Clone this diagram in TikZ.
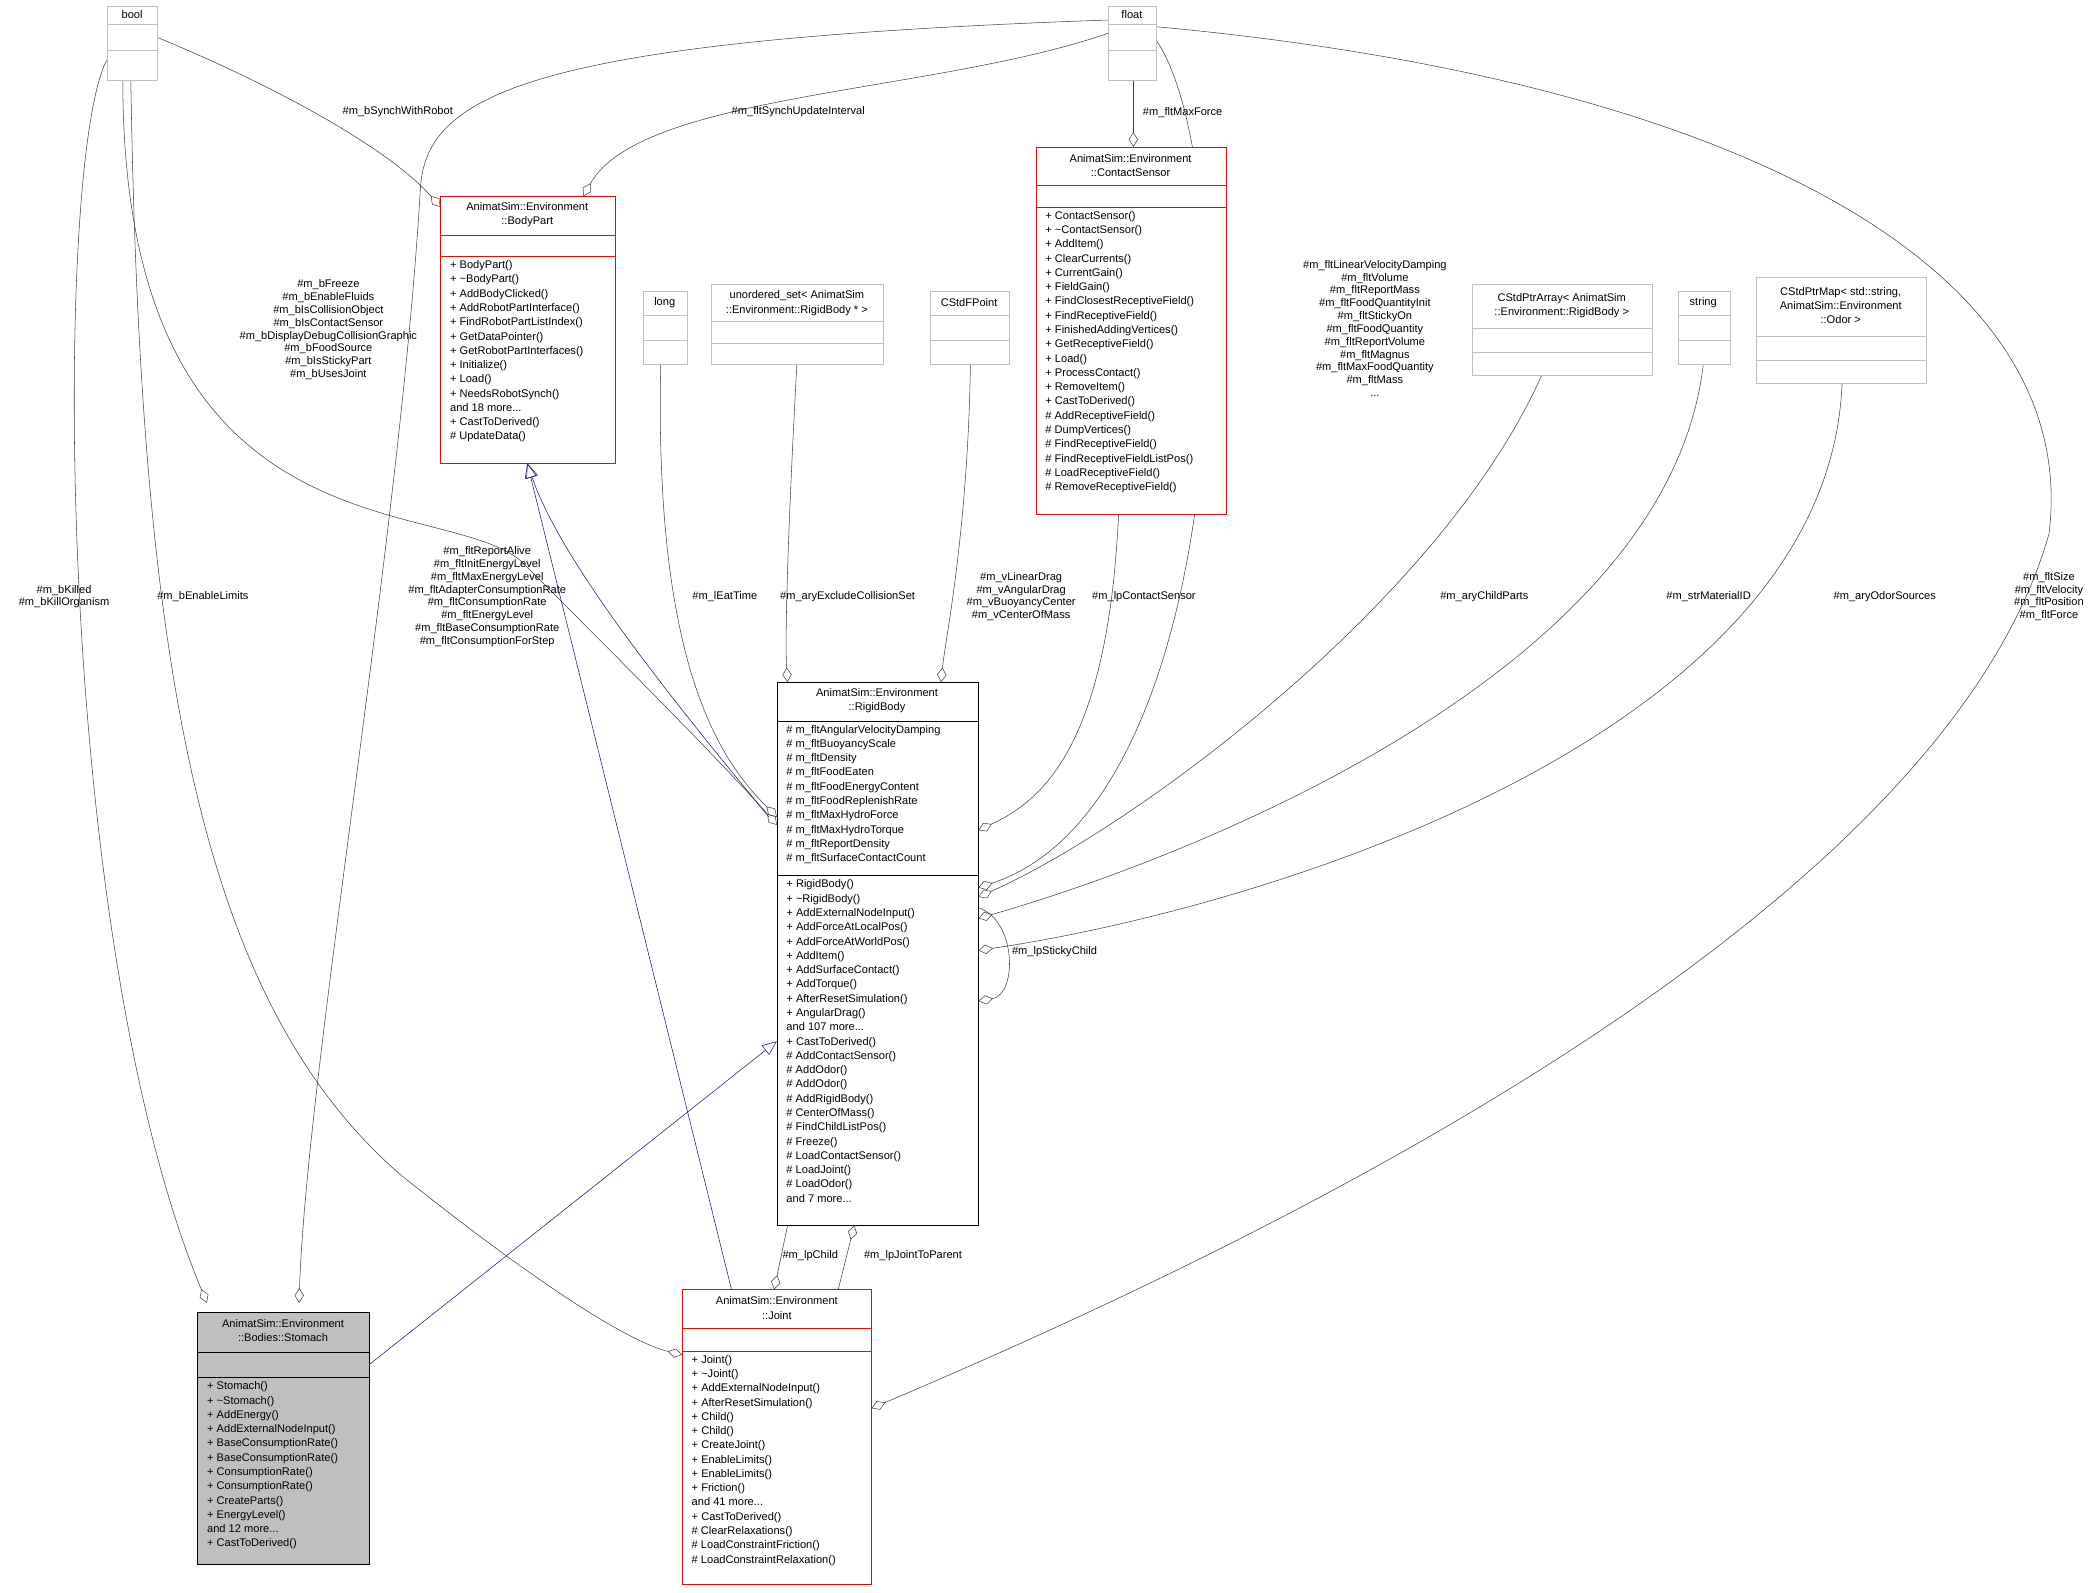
\documentclass[tikz,border=0pt]{standalone}
\usepackage{fontspec}
\setmainfont{Liberation Sans}
\usepackage{tikz}
\usetikzlibrary{arrows.meta, calc}
\definecolor{edgeGray}{HTML}{404040}
\definecolor{boxGray}{HTML}{BFBFBF}
\definecolor{inhNavy}{HTML}{191970}
\tikzset{
	cls/.style={draw=red, fill=white, inner sep=0pt},
	txt/.style={inner sep=0pt, align=left, font=\fontsize{8.3}{10.7}\selectfont},
	ttl/.style={inner sep=0pt, align=center, font=\fontsize{8.3}{10.7}\selectfont},
	lbl/.style={inner sep=0pt, align=center, font=\fontsize{8.3}{9.6}\selectfont},
	agg/.style={edgeGray, -{Diamond[open, length=11pt, width=7pt]}},
	inh/.style={inhNavy, -{Triangle[open, length=11pt, width=9pt]}}
}
% box: name, x1, y1, x2, y2, colour, separators
\newcommand{\umlbox}[7]{%
	\node (#1) [cls, draw=#6, minimum width={#4-#2}, minimum height={#5-#3}] at ({(#2+#4)/2},{(#3+#5)/2}) {};
	\foreach \s in {#7} {\draw[#6] (#2,\s) -- (#4,\s);}
}
\begin{document}
\begin{tikzpicture}[x=1pt, y=-1pt]
	\useasboundingbox (0,0) rectangle (1568,1193);
	% connectors
	\draw[agg] (80,45) .. controls (40,120) and (40,700) .. (155,976);
	\node[lbl] at (48,447) {\#m\_bKilled\\\#m\_bKillOrganism};
	\draw[agg] (93,18) .. controls (200,60) and (290,110) .. (330,155);
	\node[lbl] at (298,84) {\#m\_bSynchWithRobot};
	\draw[agg] (92,60) .. controls (92,420) and (330,370) .. (390,420) .. controls (450,480) and (540,570) .. (582,618);
	\node[lbl] at (246,247) {\#m\_bFreeze\\\#m\_bEnableFluids\\\#m\_bIsCollisionObject\\\#m\_bIsContactSensor\\\#m\_bDisplayDebugCollisionGraphic\\\#m\_bFoodSource\\\#m\_bIsStickyPart\\\#m\_bUsesJoint};
	\draw[agg] (98,60) .. controls (105,500) and (150,750) .. (300,880) .. controls (400,960) and (470,1005) .. (511,1015);
	\node[lbl] at (152,447) {\#m\_bEnableLimits};
	\draw[agg] (830,15) .. controls (400,30) and (320,70) .. (315,140) .. controls (300,400) and (230,800) .. (224,976);
	\node[lbl] at (365,447) {\#m\_fltReportAlive\\\#m\_fltInitEnergyLevel\\\#m\_fltMaxEnergyLevel\\\#m\_fltAdapterConsumptionRate\\\#m\_fltConsumptionRate\\\#m\_fltEnergyLevel\\\#m\_fltBaseConsumptionRate\\\#m\_fltConsumptionForStep};
	\draw[agg] (830,25) .. controls (700,70) and (480,70) .. (437,147);
	\node[lbl] at (598,84) {\#m\_fltSynchUpdateInterval};
	\draw[agg] (849,60) -- (849,110);
	\node[lbl] at (886,84) {\#m\_fltMaxForce};
	\draw[agg] (866,30) .. controls (930,120) and (930,600) .. (733,665);
	\node[lbl] at (1030,246) {\#m\_fltLinearVelocityDamping\\\#m\_fltVolume\\\#m\_fltReportMass\\\#m\_fltFoodQuantityInit\\\#m\_fltStickyOn\\\#m\_fltFoodQuantity\\\#m\_fltReportVolume\\\#m\_fltMagnus\\\#m\_fltMaxFoodQuantity\\\#m\_fltMass\\...};
	\draw[agg] (866,20) .. controls (1300,60) and (1560,200) .. (1535,400) .. controls (1450,700) and (900,950) .. (653,1055);
	\node[lbl] at (1535,447) {\#m\_fltSize\\\#m\_fltVelocity\\\#m\_fltPosition\\\#m\_fltForce};
	\draw[agg] (495,273) .. controls (490,500) and (540,570) .. (582,612);
	\node[lbl] at (543,447) {\#m\_lEatTime};
	\draw[agg] (597,273) .. controls (590,400) and (588,480) .. (590,511);
	\node[lbl] at (635,447) {\#m\_aryExcludeCollisionSet};
	\draw[agg] (727,273) .. controls (725,400) and (708,480) .. (705,511);
	\node[lbl] at (765,447) {\#m\_vLinearDrag\\\#m\_vAngularDrag\\\#m\_vBuoyancyCenter\\\#m\_vCenterOfMass};
	\draw[agg] (838,385) .. controls (830,560) and (780,600) .. (733,622);
	\node[lbl] at (857,447) {\#m\_lpContactSensor};
	\draw[agg] (1155,281) .. controls (1080,450) and (850,620) .. (733,672);
	\node[lbl] at (1112,447) {\#m\_aryChildParts};
	\draw[agg] (1276,273) .. controls (1250,500) and (900,640) .. (733,688);
	\node[lbl] at (1280,447) {\#m\_strMaterialID};
	\draw[agg] (1380,287) .. controls (1370,550) and (950,680) .. (733,712);
	\node[lbl] at (1412,447) {\#m\_aryOdorSources};
	\draw[agg] (733,680) .. controls (762,690) and (762,745) .. (733,750);
	\node[lbl] at (790,713) {\#m\_lpStickyChild};
	\draw[agg] (590,918) -- (580,966);
	\node[lbl] at (607,941) {\#m\_lpChild};
	\draw[agg] (628,966) -- (640,918);
	\node[lbl] at (684,941) {\#m\_lpJointToParent};
	\draw[inh] (576,612) .. controls (500,520) and (420,420) .. (395,347);
	\draw[inh] (548,966) -- (395,347);
	\draw[inh] (277,1022) -- (582,780);
	% classes
	\umlbox{bool}{80}{5}{118}{60}{boxGray}{18,38}
	\node[ttl] at (99,11) {bool};
	\umlbox{float}{830}{5}{866}{60}{boxGray}{18,38}
	\node[ttl] at (848,11) {float};
	\umlbox{long}{482}{218}{515}{273}{boxGray}{236,255}
	\node[ttl] at (498,227) {long};
	\umlbox{uset}{533}{213}{662}{273}{boxGray}{241,257}
	\node[ttl] at (597,227) {unordered\_set< AnimatSim\\::Environment::RigidBody * >};
	\umlbox{fpoint}{697}{218}{756}{273}{boxGray}{236,255}
	\node[ttl] at (726,227) {CStdFPoint};
	\umlbox{ptrarray}{1103}{213}{1238}{281}{boxGray}{246,264}
	\node[ttl] at (1170,229) {CStdPtrArray< AnimatSim\\::Environment::RigidBody >};
	\umlbox{str}{1257}{218}{1296}{273}{boxGray}{236,255}
	\node[ttl] at (1276,227) {string};
	\umlbox{ptrmap}{1316}{208}{1443}{287}{boxGray}{252,270}
	\node[ttl] at (1379,229) {CStdPtrMap< std::string,\\AnimatSim::Environment\\::Odor >};
	\umlbox{bodypart}{330}{147}{461}{347}{red}{176,192}
	\node[ttl] at (395,161) {AnimatSim::Environment\\::BodyPart};
	\node[txt, anchor=north west] at (337,195) {+ BodyPart()\\+ \textasciitilde BodyPart()\\+ AddBodyClicked()\\+ AddRobotPartInterface()\\+ FindRobotPartListIndex()\\+ GetDataPointer()\\+ GetRobotPartInterfaces()\\+ Initialize()\\+ Load()\\+ NeedsRobotSynch()\\and 18 more...\\+ CastToDerived()\\\# UpdateData()};
	\umlbox{contact}{776}{110}{919}{385}{red}{139,155}
	\node[ttl] at (847,124) {AnimatSim::Environment\\::ContactSensor};
	\node[txt, anchor=north west] at (783,158) {+ ContactSensor()\\+ \textasciitilde ContactSensor()\\+ AddItem()\\+ ClearCurrents()\\+ CurrentGain()\\+ FieldGain()\\+ FindClosestReceptiveField()\\+ FindReceptiveField()\\+ FinishedAddingVertices()\\+ GetReceptiveField()\\+ Load()\\+ ProcessContact()\\+ RemoveItem()\\+ CastToDerived()\\\# AddReceptiveField()\\\# DumpVertices()\\\# FindReceptiveField()\\\# FindReceptiveFieldListPos()\\\# LoadReceptiveField()\\\# RemoveReceptiveField()};
	\umlbox{rigid}{582}{511}{733}{918}{black}{540,656}
	\node[ttl] at (657,525) {AnimatSim::Environment\\::RigidBody};
	\node[txt, anchor=north west] at (589,543) {\# m\_fltAngularVelocityDamping\\\# m\_fltBuoyancyScale\\\# m\_fltDensity\\\# m\_fltFoodEaten\\\# m\_fltFoodEnergyContent\\\# m\_fltFoodReplenishRate\\\# m\_fltMaxHydroForce\\\# m\_fltMaxHydroTorque\\\# m\_fltReportDensity\\\# m\_fltSurfaceContactCount};
	\node[txt, anchor=north west] at (589,659) {+ RigidBody()\\+ \textasciitilde RigidBody()\\+ AddExternalNodeInput()\\+ AddForceAtLocalPos()\\+ AddForceAtWorldPos()\\+ AddItem()\\+ AddSurfaceContact()\\+ AddTorque()\\+ AfterResetSimulation()\\+ AngularDrag()\\and 107 more...\\+ CastToDerived()\\\# AddContactSensor()\\\# AddOdor()\\\# AddOdor()\\\# AddRigidBody()\\\# CenterOfMass()\\\# FindChildListPos()\\\# Freeze()\\\# LoadContactSensor()\\\# LoadJoint()\\\# LoadOdor()\\and 7 more...};
	\umlbox{stomach}{148}{983}{277}{1172}{black}{1013,1032}
	\fill[boxGray] ([xshift=0.5pt,yshift=-0.5pt]stomach.north west) rectangle ([xshift=-0.5pt,yshift=0.5pt]stomach.south east);
	\draw (148,983) rectangle (277,1172) (148,1013) -- (277,1013) (148,1032) -- (277,1032);
	\node[ttl] at (212,997) {AnimatSim::Environment\\::Bodies::Stomach};
	\node[txt, anchor=north west] at (155,1035) {+ Stomach()\\+ \textasciitilde Stomach()\\+ AddEnergy()\\+ AddExternalNodeInput()\\+ BaseConsumptionRate()\\+ BaseConsumptionRate()\\+ ConsumptionRate()\\+ ConsumptionRate()\\+ CreateParts()\\+ EnergyLevel()\\and 12 more...\\+ CastToDerived()};
	\umlbox{joint}{511}{966}{653}{1187}{red}{995,1012}
	\node[ttl] at (582,980) {AnimatSim::Environment\\::Joint};
	\node[txt, anchor=north west] at (518,1015) {+ Joint()\\+ \textasciitilde Joint()\\+ AddExternalNodeInput()\\+ AfterResetSimulation()\\+ Child()\\+ Child()\\+ CreateJoint()\\+ EnableLimits()\\+ EnableLimits()\\+ Friction()\\and 41 more...\\+ CastToDerived()\\\# ClearRelaxations()\\\# LoadConstraintFriction()\\\# LoadConstraintRelaxation()};
\end{tikzpicture}
\end{document}
